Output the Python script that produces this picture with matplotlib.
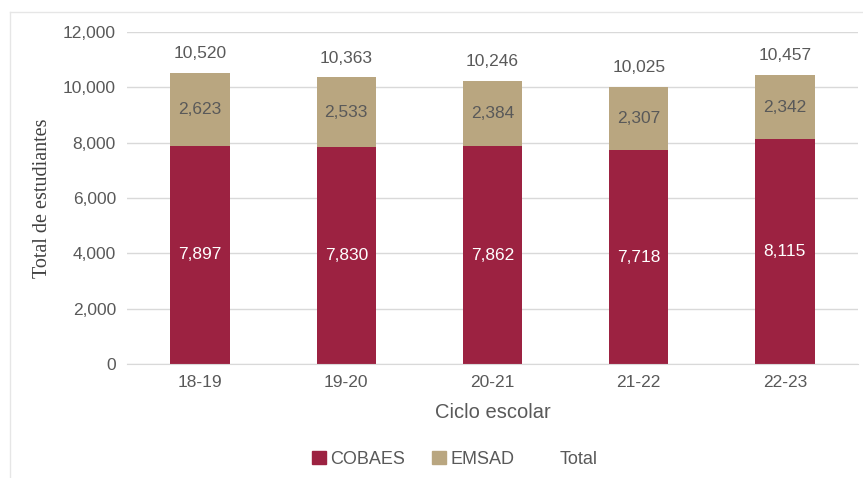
import numpy as np
import matplotlib.pyplot as plt
from matplotlib.lines import Line2D
from matplotlib.patches import Patch

ciclos = ['18-19', '19-20', '20-21', '21-22', '22-23']
cobaes = [7897, 7830, 7862, 7718, 8115]
emsad = [2623, 2533, 2384, 2307, 2342]
total = [10520, 10363, 10246, 10025, 10457]

c_cobaes = '#9C2241'
c_emsad = '#B9A680'
gris = '#595959'

plt.rcParams['font.family'] = ['Liberation Sans', 'DejaVu Sans']

fig = plt.figure(figsize=(8.63, 4.78), dpi=100)
ax = fig.add_axes([127 / 863, 1 - 364 / 478, 731 / 863, 332 / 478])

x = np.arange(len(ciclos))
w = 0.405
ax.bar(x, cobaes, w, color=c_cobaes, zorder=2)
ax.bar(x, emsad, w, bottom=cobaes, color=c_emsad, zorder=2)

for i in range(len(ciclos)):
    ax.text(x[i], cobaes[i] / 2, f'{cobaes[i]:,}', ha='center', va='center',
            color='white', fontsize=12.5, zorder=3)
    ax.text(x[i], cobaes[i] + emsad[i] / 2, f'{emsad[i]:,}', ha='center',
            va='center', color=gris, fontsize=12.5, zorder=3)
    ax.text(x[i], total[i] + 420, f'{total[i]:,}', ha='center', va='bottom',
            color=gris, fontsize=12.5, zorder=3)

ax.set_xlim(-0.5, len(ciclos) - 0.5)
ax.set_ylim(0, 12000)
ax.set_yticks(np.arange(0, 12001, 2000))
ax.yaxis.set_major_formatter(plt.FuncFormatter(lambda v, p: f'{int(v):,}'))
ax.set_xticks(x)
ax.set_xticklabels(ciclos)
ax.tick_params(axis='both', length=0, colors=gris, labelsize=12.5)
ax.tick_params(axis='y', pad=8)
ax.tick_params(axis='x', pad=8)
ax.grid(axis='y', color='#D9D9D9', linewidth=1, zorder=0)
for s in ax.spines.values():
    s.set_visible(False)
ax.spines['bottom'].set_visible(True)
ax.spines['bottom'].set_color('#D9D9D9')

ax.set_xlabel('Ciclo escolar', color=gris, fontsize=14.5, labelpad=9)
ax.set_ylabel('Total de estudiantes', color='#404040', fontsize=14.5,
              family='Liberation Serif', labelpad=8)

handles = [Patch(color=c_cobaes), Patch(color=c_emsad),
           Line2D([], [], color='none')]
fig.legend(handles, ['COBAES', 'EMSAD', 'Total'], loc='center',
           bbox_to_anchor=(455 / 863, 1 - 459 / 478), ncol=3, frameon=False,
           fontsize=13, labelcolor=gris, handlelength=0.75, handleheight=0.75,
           handletextpad=0.25, columnspacing=1.5)

# marco gris claro
fig.add_artist(Line2D([10 / 863, 10 / 863], [0, 1 - 12 / 478],
                      color='#E6E6E6', linewidth=1))
fig.add_artist(Line2D([10 / 863, 1], [1 - 12 / 478, 1 - 12 / 478],
                      color='#E6E6E6', linewidth=1))

plt.savefig('out.png', dpi=100)
